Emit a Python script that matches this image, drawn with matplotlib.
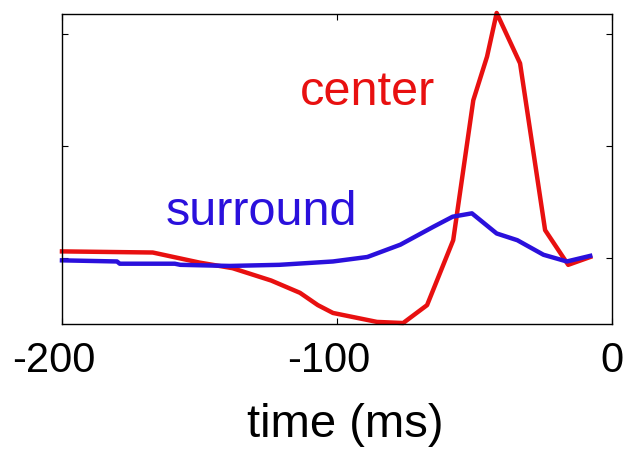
import numpy as np
import matplotlib
matplotlib.use('Agg')
import matplotlib.pyplot as plt
from matplotlib.transforms import ScaledTranslation

plt.rcParams['font.family'] = ['Liberation Sans', 'DejaVu Sans']

# center response (red)
t_center = [-200, -167, -150, -138, -124, -113.5, -107, -101.5, -85.5, -76, -67.3,
            -57.8, -50.5, -45.5, -42, -33.5, -24.4, -16, -8]
y_center = [0.06, 0.05, -0.04, -0.09, -0.2, -0.31, -0.42, -0.49, -0.57, -0.58, -0.42,
            0.16, 1.41, 1.8, 2.19, 1.74, 0.25, -0.06, 0.01]

# surround response (blue)
t_surround = [-200, -180, -179, -159, -157, -139, -121, -108, -101.5, -89, -77,
              -65, -58, -51, -42, -34.5, -25, -16.5, -8]
y_surround = [-0.02, -0.03, -0.05, -0.05, -0.06, -0.07, -0.06, -0.04, -0.03, 0.01, 0.12,
              0.28, 0.37, 0.4, 0.22, 0.16, 0.03, -0.03, 0.02]

xticks = [-200, -100, 0]
yticks = [0, 1, 2]

fig = plt.figure(figsize=(6.26, 4.54), dpi=100)
ax = fig.add_axes([0.099, 0.286, 0.879, 0.683])

ax.plot(t_center, y_center, color='#e81010', lw=3.2, clip_on=False)
ax.plot(t_surround, y_surround, color='#2a10dc', lw=3.2, clip_on=False)

ax.text(-113.5, 1.37, 'center', color='#e81010', fontsize=35)
ax.text(-162.5, 0.295, 'surround', color='#2a10dc', fontsize=35)

ax.set_xlim(-200, 0)
ax.set_ylim(-0.59, 2.18)
ax.set_xticks(xticks)
ax.set_xticklabels([str(v) for v in xticks])
ax.set_yticks(yticks)
ax.set_yticklabels([])
ax.tick_params(direction='in', length=4, width=0.8, top=True, right=True,
               labelsize=30, pad=12)

# matlab-style: the number is centred on the tick, the minus hangs left
shift = ScaledTranslation(-8 / 100, 0, fig.dpi_scale_trans)
for lab in ax.get_xticklabels():
    if lab.get_text().startswith('-'):
        lab.set_transform(lab.get_transform() + shift)

ax.set_xlabel('time (ms)', fontsize=34, labelpad=16)
ax.xaxis.label.set_x(0.5145)
for s in ax.spines.values():
    s.set_linewidth(1.0)

fig.savefig('out.png', dpi=100)
